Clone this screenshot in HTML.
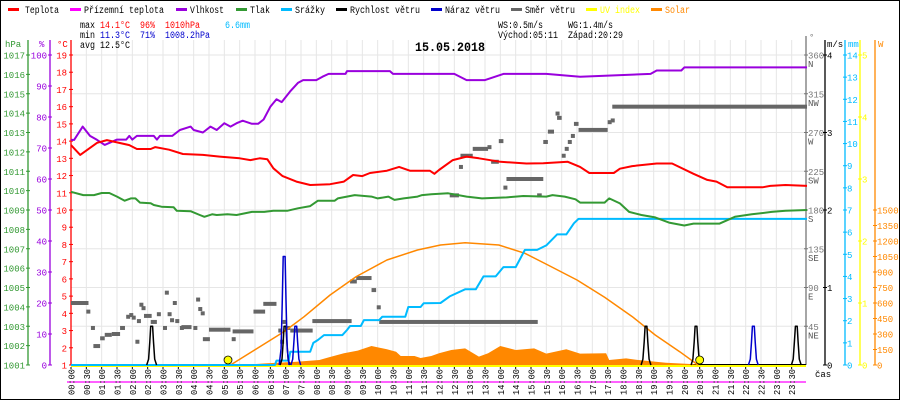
<!DOCTYPE html>
<html><head><meta charset="utf-8"><style>
html,body{margin:0;padding:0;background:#fff}
svg{display:block;font-family:"Liberation Mono",monospace}
</style></head><body>
<svg id="c" width="900" height="400" viewBox="0 0 900 400" xmlns="http://www.w3.org/2000/svg">
<rect x="0.5" y="0.5" width="899" height="399" fill="#fff" stroke="#000"/>
<g id="grid"></g>
<g id="legend" font-size="10">
 <g><rect x="8" y="8" width="11" height="3" fill="#f00"/><text x="25" y="13" textLength="34" lengthAdjust="spacingAndGlyphs">Teplota</text></g>
 <g><rect x="70" y="8" width="11" height="3" fill="#f0f"/><text x="84" y="13" textLength="80" lengthAdjust="spacingAndGlyphs">Přízemní teplota</text></g>
 <g><rect x="176" y="8" width="11" height="3" fill="#90d"/><text x="190" y="13" textLength="34" lengthAdjust="spacingAndGlyphs">Vlhkost</text></g>
 <g><rect x="236" y="8" width="11" height="3" fill="#393"/><text x="250" y="13" textLength="20" lengthAdjust="spacingAndGlyphs">Tlak</text></g>
 <g><rect x="281" y="8" width="11" height="3" fill="#0bf"/><text x="295" y="13" textLength="30" lengthAdjust="spacingAndGlyphs">Srážky</text></g>
 <g><rect x="336" y="8" width="11" height="3" fill="#000"/><text x="350" y="13" textLength="70" lengthAdjust="spacingAndGlyphs">Rychlost větru</text></g>
 <g><rect x="431" y="8" width="11" height="3" fill="#00c"/><text x="445" y="13" textLength="55" lengthAdjust="spacingAndGlyphs">Náraz větru</text></g>
 <g><rect x="511" y="8" width="11" height="3" fill="#666"/><text x="525" y="13" textLength="50" lengthAdjust="spacingAndGlyphs">Směr větru</text></g>
 <g><rect x="586" y="8" width="11" height="3" fill="#ff0"/><text x="600" y="13" fill="#ff0" textLength="40" lengthAdjust="spacingAndGlyphs">UV index</text></g>
 <g><rect x="651" y="8" width="11" height="3" fill="#f80"/><text x="665" y="13" fill="#f80" textLength="25" lengthAdjust="spacingAndGlyphs">Solar</text></g>
</g>
<g font-size="10">
 <text x="80" y="28" textLength="15" lengthAdjust="spacingAndGlyphs">max</text>
 <text x="100" y="28" fill="#f00" textLength="30" lengthAdjust="spacingAndGlyphs">14.1°C</text>
 <text x="140" y="28" fill="#f00" textLength="15" lengthAdjust="spacingAndGlyphs">96%</text>
 <text x="165" y="28" fill="#f00" textLength="35" lengthAdjust="spacingAndGlyphs">1010hPa</text>
 <text x="225" y="28" fill="#0bf" textLength="25" lengthAdjust="spacingAndGlyphs">6.6mm</text>
 <text x="80" y="38" textLength="15" lengthAdjust="spacingAndGlyphs">min</text>
 <text x="100" y="38" fill="#00c" textLength="30" lengthAdjust="spacingAndGlyphs">11.3°C</text>
 <text x="140" y="38" fill="#00c" textLength="15" lengthAdjust="spacingAndGlyphs">71%</text>
 <text x="165" y="38" fill="#00c" textLength="45" lengthAdjust="spacingAndGlyphs">1008.2hPa</text>
 <text x="80" y="48" textLength="50" lengthAdjust="spacingAndGlyphs">avg 12.5°C</text>
 <text x="498" y="28" textLength="45" lengthAdjust="spacingAndGlyphs">WS:0.5m/s</text>
 <text x="568" y="28" textLength="45" lengthAdjust="spacingAndGlyphs">WG:1.4m/s</text>
 <text x="498" y="38" textLength="60" lengthAdjust="spacingAndGlyphs">Východ:05:11</text>
 <text x="568" y="38" textLength="55" lengthAdjust="spacingAndGlyphs">Západ:20:29</text>
 <text x="415" y="51" font-size="13" font-weight="bold" textLength="70" lengthAdjust="spacingAndGlyphs">15.05.2018</text>
</g>
<g id="axes"></g>
<g id="series"></g>
</svg>
<script>
const timeLabels=[];for(let h=0;h<24;h++){timeLabels.push(String(h).padStart(2,'0')+':00');timeLabels.push(String(h).padStart(2,'0')+':30');}
const tempT=[0,0.3,0.85,1.17,1.9,2.15,2.6,2.75,3.2,3.65,4.3,4.85,5.5,5.85,6.15,6.4,6.6,6.9,7.35,7.8,8.45,8.9,9.2,9.5,9.75,10.3,10.7,11.05,11.7,11.85,12.0,12.45,12.9,13.3,14.0,14.85,15.4,16.2,16.6,16.9,17.7,17.9,18.3,19.1,19.6,20.3,20.75,21.05,21.4,22.55,22.8,23.3,24];
const tempV=[13.77,13.2,13.9,14.06,13.77,13.54,13.54,13.65,13.5,13.25,13.2,13.1,13.0,12.9,13.0,12.95,12.42,11.97,11.65,11.45,11.5,11.65,12.03,11.97,12.15,12.28,12.5,12.28,12.28,12.1,12.32,12.9,13.1,13.0,12.8,12.7,12.72,12.8,12.5,12.15,12.15,12.4,12.55,12.7,12.7,12.1,11.75,11.65,11.32,11.32,11.4,11.45,11.4];
const humT=[0,0.1,0.38,0.62,0.85,1.1,1.5,1.8,1.9,2.0,2.15,2.7,2.8,2.9,3.3,3.55,3.9,4.0,4.3,4.55,4.75,5.0,5.2,5.4,5.6,5.9,6.1,6.28,6.5,6.7,6.87,7.14,7.4,7.57,8.0,8.2,8.4,8.95,9.0,10.4,10.5,12.5,12.9,13.5,14.1,15.5,16.6,18.9,19.1,19.9,20.0,24];
const humV=[72.6,72.6,76.9,73.9,72.6,71,72.7,72.7,73.9,72.7,73.9,73.9,72.7,73.9,73.9,75.8,76.9,75.8,75,76.9,75.8,78,76.9,78,78.8,77.8,77.8,79.2,83.3,85.7,84.8,88.2,91,91.9,91.9,93,93.9,93.9,94.8,94.8,93.9,93.9,91.9,91.9,93.9,93.9,93,93.9,95,95,96,96];
const presT=[0,0.4,0.75,1.0,1.25,1.5,1.75,1.95,2.1,2.25,2.6,2.7,2.95,3.35,3.45,3.9,4.2,4.35,4.6,4.75,5.1,5.4,5.9,6.3,6.6,7.05,7.4,7.8,8.05,8.6,8.7,9.25,9.8,10.0,10.35,10.55,10.85,11.3,11.45,11.75,12.3,12.9,13.4,14.2,14.75,15.5,15.7,16.1,16.45,16.6,17.4,17.55,17.9,18.2,18.6,19.05,19.5,20.0,20.3,21.15,21.65,22.2,22.85,23.3,24];
const presV=[1009.94,1009.77,1009.77,1009.88,1009.88,1009.69,1009.48,1009.6,1009.6,1009.38,1009.35,1009.26,1009.17,1009.14,1008.96,1008.94,1008.74,1008.65,1008.78,1008.74,1008.78,1008.74,1008.9,1008.9,1008.96,1008.96,1009.09,1009.2,1009.48,1009.48,1009.6,1009.77,1009.69,1009.6,1009.69,1009.52,1009.6,1009.69,1009.77,1009.81,1009.86,1009.69,1009.6,1009.65,1009.72,1009.69,1009.77,1009.69,1009.55,1009.38,1009.38,1009.6,1009.34,1008.9,1008.74,1008.62,1008.35,1008.2,1008.3,1008.3,1008.65,1008.78,1008.9,1008.96,1009.0];
const rainT=[0,6.65,6.7,7.1,7.15,7.8,7.9,8.05,8.25,8.85,9.0,9.1,9.45,9.55,10.05,10.15,10.9,11.0,11.4,11.5,12.05,12.35,12.85,13.2,13.45,13.85,14.1,14.5,14.8,15.2,15.5,15.85,16.15,16.4,16.55,24];
const rainV=[0,0,0.2,0.2,0.6,0.6,1.0,1.13,1.35,1.35,1.58,1.76,1.76,2.03,2.03,2.18,2.18,2.62,2.62,2.79,2.8,3.1,3.42,3.42,4.0,4.0,4.42,4.42,5.2,5.2,5.4,5.9,5.9,6.4,6.6,6.6];
const solarT=[5.45,6.4,7.35,8.1,8.4,8.9,9.35,9.8,10.3,10.6,10.75,11.2,11.4,11.75,12.0,12.4,12.85,13.3,13.6,14.0,14.5,15.1,15.5,16.15,16.6,17.45,17.55,18.1,18.5,19.4,20.2,20.5];
const solarW=[0,16,32,48,74,113,139,184,152,129,87,87,68,87,113,145,161,81,113,184,145,161,110,152,110,113,48,64,48,22,10,0];
const sunT=[5.2,6.95,7.6,8.45,9.3,10.3,11.3,12.05,12.85,13.95,14.8,15.55,16.5,17.4,18.3,19.05,19.85,20.45];
const sunW=[0,323,467,677,855,1016,1113,1161,1184,1161,1081,968,823,655,468,290,129,0];
const windPeakT=[2.63,6.98,18.75,20.38,23.65];
const windPeakV=[0.5,0.5,0.5,0.5,0.5];
const gustPeakT=[6.95,7.33,22.25];
const gustPeakV=[1.4,0.5,0.5];
const dirStart=[0,0.5,0.65,0.73,0.95,1.1,1.33,1.6,1.8,1.9,1.98,2.1,2.15,2.23,2.3,2.38,2.6,2.8,3.0,3.06,3.15,3.23,3.32,3.4,3.55,3.6,3.99,4.08,4.15,4.23,4.3,4.5,5.24,5.27,5.95,6.27,6.76,6.82,6.9,6.98,7.15,7.87,9.1,9.3,9.8,9.97,10.05,12.35,12.65,12.7,13.1,13.58,13.7,13.95,14.1,14.2,15.2,15.4,15.55,15.8,15.85,16.0,16.1,16.2,16.3,16.4,16.55,17.5,17.6,17.65];
const dirEnd  =[0.57,0.55,0.7,0.95,1.1,1.33,1.6,1.76,1.85,1.95,2.03,2.15,2.2,2.28,2.35,2.63,2.8,2.93,3.05,3.11,3.2,3.28,3.37,3.5,3.6,3.93,4.04,4.13,4.2,4.28,4.53,5.2,5.29,5.95,6.33,6.7,6.81,6.87,6.95,7.15,7.88,9.15,9.32,9.8,9.95,10.05,15.22,12.65,12.7,13.1,13.6,13.63,13.95,14.1,14.15,15.4,15.35,15.55,15.75,15.85,16.0,16.05,16.15,16.25,16.35,16.55,17.5,17.55,17.65,24];
const dirDeg  =[72,62,43,22,31,35,36,43,56,58,55,27,51,70,66,57,50,59,43,84,59,52,72,51,43,44,43,76,65,60,30,41,30,39,62,71,40,27,50,43,40,51,97,101,87,67,50,197,230,243,251,253,236,260,206,216,197,259,271,292,287,243,251,259,266,280,273,282,284,300];
const hpaTicks=[1017,1016,1015,1014,1013,1012,1011,1010,1009,1008,1007,1006,1005,1004,1003,1002,1001];
const pctTicks=[100,90,80,70,60,50,40,30,20,10,0];
const tempTicks=[19,18,17,16,15,14,13,12,11,10,9,8,7,6,5,4,3,2,1];
const dirTicks=[360,315,270,225,180,135,90,45];
const dirNames=['N','NW','W','SW','S','SE','E','NE'];
const msTicks=[4,3,2,1,0];
const mmTicks=[14,13,12,11,10,9,8,7,6,5,4,3,2,1,0];
const uvTicks=[5,4,3,2,1,0];
const wTicks=[1500,1350,1200,1050,900,750,600,450,300,150,0];

const NS='http://www.w3.org/2000/svg';
const X=t=>71+t*30.667;
const yT=v=>365-(v-1)*310/18, yH=p=>365-p*3.1, yP=h=>365-(h-1001)*310/16;
const yR=m=>365-m*310/14, yS=w=>365-w*155/1500, yD=d=>365-d*310/360, yW=v=>365-v*310/4, yU=u=>365-u*310/5;
function el(tag,at,parent){const e=document.createElementNS(NS,tag);for(const k in at)e.setAttribute(k,at[k]);parent.appendChild(e);return e;}
function txt(parent,x,y,s,fill,anchor,size){const e=el('text',{x:x,y:y,fill:fill||'#000','font-size':size||9,'text-anchor':anchor||'start'},parent);e.textContent=s;return e;}
const grid=document.getElementById('grid'),axes=document.getElementById('axes'),ser=document.getElementById('series');

for(let i=1;i<48;i++){const l=el('line',{x1:X(i/2),x2:X(i/2),y1:40,y2:365,stroke:'#e6e6e6'},grid);

}
for(let j=0;j<8;j++){const y=55+j*38.75;const l=el('line',{x1:71,x2:806,y1:y,y2:y,stroke:'#e6e6e6'},grid);

}

function vAxis(x,color,name,ticks,yf,lx,anchor,top){
 const g=el('g',{},axes);
 
 
 el('line',{x1:x,x2:x,y1:top||40,y2:365,stroke:color,'stroke-width':1.3},g);
 ticks.forEach(v=>{const y=yf(v);el('line',{x1:x-2,x2:x+2,y1:y,y2:y,stroke:color},g);txt(g,lx,y+3.5,String(v),color,anchor,9);});
 return g;}
vAxis(28,'#393','hpa-axis',hpaTicks,yP,25,'end');
vAxis(50,'#90d','humidity-axis',pctTicks,yH,47,'end');
vAxis(71,'#f00','temperature-axis',tempTicks,yT,67,'end');
const gd=vAxis(806,'#777','direction-axis',dirTicks,yD,808,'start',36);
dirTicks.forEach((v,i)=>txt(gd,808,yD(v)+12,dirNames[i],'#555','start',9));
vAxis(825,'#000','wind-speed-axis',msTicks,yW,827,'start');
vAxis(845,'#0bf','rain-axis',mmTicks,yR,847,'start');
vAxis(860,'#ff0','uv-axis',uvTicks,yU,862,'start');
vAxis(875,'#f80','solar-axis',wTicks,yS,877,'start');
txt(axes,5,47,'hPa','#393','start',9);
txt(axes,39,47,'%','#90d','start',9);
txt(axes,57,47,'°C','#f00','start',9);
txt(axes,809,40,'°','#777','start',9);
txt(axes,827,47,'m/s','#000','start',9);
txt(axes,848,47,'mm','#0bf','start',9);
txt(axes,878,47,'W','#f80','start',9);
txt(axes,815,377,'čas','#000','start',9);

el('line',{x1:71,x2:806,y1:364.5,y2:364.5,stroke:'#000'},axes);
el('line',{x1:71,x2:806,y1:366,y2:366,stroke:'#ff0','stroke-width':2},axes);
el('line',{x1:67,x2:806,y1:382,y2:382,stroke:'#f0f','stroke-width':1.3},axes);
timeLabels.forEach((s,i)=>{const x=X(i/2);el('line',{x1:x,x2:x,y1:367,y2:369,stroke:'#000'},axes);
 const t=el('text',{x:0,y:0,'font-size':9,transform:`translate(${x+3.5},395) rotate(-90)`,textLength:26,lengthAdjust:'spacingAndGlyphs'},axes);t.textContent=s;
 
 });

function pts(ts,vs,yf){return ts.map((t,i)=>X(t).toFixed(1)+','+yf(vs[i]).toFixed(1)).join(' ');}
let sp='M'+X(solarT[0])+',365 L'+pts(solarT,solarW,yS)+' L'+X(solarT[solarT.length-1])+',365 Z';
const sf=el('path',{d:sp,fill:'#f80'},ser);


dirDeg.forEach((d,i)=>{const x1=X(dirStart[i]),x2=Math.max(X(dirEnd[i]),x1+4);const r=el('rect',{x:x1,y:yD(d)-2,width:x2-x1,height:4,fill:'#666'},ser);

});
function line(ts,vs,yf,color,w,name){const p=el('polyline',{points:pts(ts,vs,yf),fill:'none',stroke:color,'stroke-width':w,'stroke-linejoin':'round'},ser);

}
line(sunT,sunW,yS,'#f80',1.5,'solar-theoretical-line');
line(rainT,rainV,yR,'#0bf',2,'rain-line');
line(presT,presV,yP,'#393',2,'pressure-line');
line(humT,humV,yH,'#90d',2,'humidity-line');
line(tempT,tempV,yT,'#f00',2,'temperature-line');
function peaks(T,V,color,name){T.forEach((t,i)=>{const v=V[i];const ts=[t-0.16,t-0.1,t-0.06,t-0.03,t+0.03,t+0.06,t+0.1,t+0.16];const vs=[0,0.15*v,0.6*v,v,v,0.6*v,0.15*v,0];line(ts,vs,yW,color,1.5,name);});}
peaks(windPeakT,windPeakV,'#000','wind-speed-peak');
peaks(gustPeakT,gustPeakV,'#00c','wind-gust-peak');
[5.12,20.5].forEach((t,i)=>{const c=el('circle',{cx:X(t),cy:360,r:4,fill:'#ff0',stroke:'#000','stroke-width':0.8},ser);

});
</script>
</body></html>
